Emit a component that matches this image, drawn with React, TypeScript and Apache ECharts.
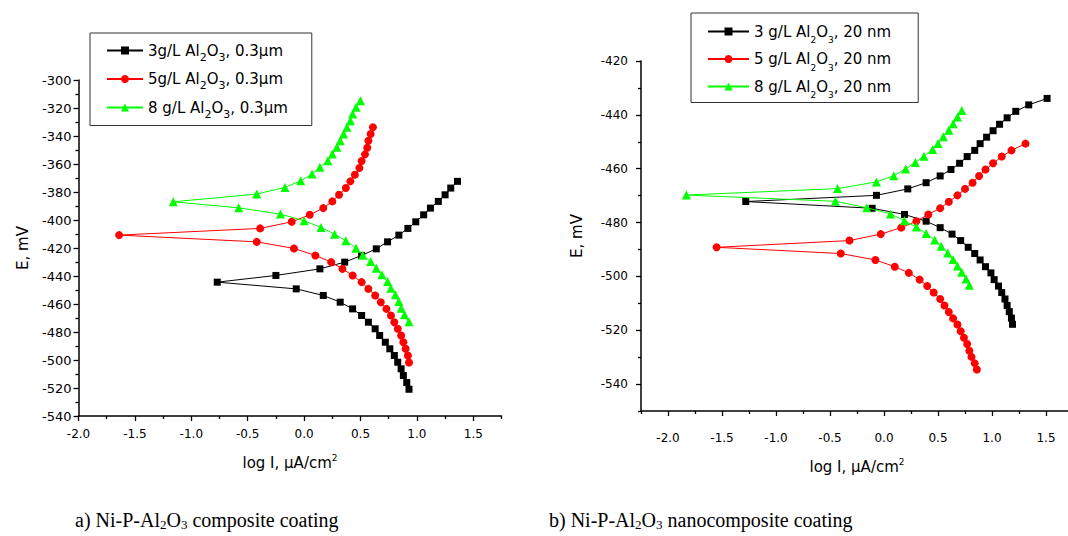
import React, { useEffect, useRef } from 'react';
import * as echarts from 'echarts';

type P = [number, number];

// ---------- (a) Ni-P-Al2O3 composite coating ----------
const a3Corr: P = [-0.77, -444.4];
const a3Anod: P[] = [[-0.25, -439.6], [0.14, -434.9], [0.36, -430.1], [0.51, -425.3], [0.64, -420.6], [0.74, -415.6], [0.84, -410.8], [0.92, -406.0], [0.99, -401.3], [1.06, -396.3], [1.12, -391.5], [1.19, -386.7], [1.25, -382.0], [1.30, -377.2], [1.36, -372.4]];
const a3Cath: P[] = [[-0.07, -449.2], [0.17, -453.9], [0.32, -458.7], [0.43, -463.5], [0.51, -468.2], [0.57, -473.0], [0.63, -477.7], [0.67, -482.5], [0.72, -487.3], [0.76, -492.0], [0.80, -496.8], [0.83, -501.6], [0.86, -506.3], [0.88, -511.1], [0.91, -516.1], [0.93, -520.9]];

const a5Corr: P = [-1.64, -410.8];
const a5Anod: P[] = [[-0.39, -406.0], [-0.11, -401.3], [0.05, -396.3], [0.17, -391.5], [0.25, -386.7], [0.31, -382.0], [0.37, -377.2], [0.41, -372.4], [0.45, -367.7], [0.49, -362.9], [0.51, -357.9], [0.54, -353.1], [0.56, -348.4], [0.57, -343.4], [0.59, -338.6], [0.61, -333.8]];
const a5Cath: P[] = [[-0.42, -415.6], [-0.09, -420.3], [0.10, -425.3], [0.24, -430.1], [0.34, -434.9], [0.43, -439.6], [0.51, -444.4], [0.57, -449.2], [0.63, -453.9], [0.68, -458.7], [0.73, -463.5], [0.77, -468.2], [0.80, -473.0], [0.83, -477.7], [0.86, -482.5], [0.88, -487.3], [0.90, -492.0], [0.92, -496.8], [0.93, -501.8]];

const a8Corr: P = [-1.16, -387.0];
const a8Anod: P[] = [[-0.42, -381.5], [-0.17, -376.7], [-0.03, -372.0], [0.07, -367.2], [0.14, -362.4], [0.21, -357.7], [0.25, -352.9], [0.29, -348.1], [0.32, -343.4], [0.35, -338.6], [0.38, -333.8], [0.41, -329.1], [0.43, -324.3], [0.46, -319.5], [0.50, -314.8]];
const a8Cath: P[] = [[-0.58, -391.3], [-0.21, -395.8], [0.00, -400.5], [0.15, -405.3], [0.27, -410.1], [0.37, -414.8], [0.46, -420.1], [0.52, -425.1], [0.59, -429.6], [0.64, -434.4], [0.69, -439.1], [0.74, -443.9], [0.77, -448.7], [0.81, -453.4], [0.84, -458.2], [0.86, -463.0], [0.89, -467.7], [0.93, -472.7]];

// ---------- (b) Ni-P-Al2O3 nanocomposite coating ----------
const b3Corr: P = [-1.28, -472.2];
const b3Anod: P[] = [[-0.07, -469.9], [0.22, -467.5], [0.39, -465.2], [0.52, -462.7], [0.62, -460.3], [0.70, -458.0], [0.77, -455.5], [0.84, -453.2], [0.89, -450.7], [0.95, -448.3], [1.01, -445.9], [1.07, -443.5], [1.14, -441.1], [1.22, -438.7], [1.34, -436.3], [1.51, -433.9]];
const b3Cath: P[] = [[-0.11, -474.7], [0.19, -477.0], [0.39, -479.5], [0.52, -481.9], [0.63, -484.3], [0.71, -486.7], [0.78, -489.2], [0.84, -491.5], [0.89, -493.9], [0.94, -496.4], [0.99, -498.7], [1.02, -501.2], [1.06, -503.6], [1.09, -506.0], [1.12, -508.4], [1.14, -510.8], [1.16, -513.1], [1.18, -515.5], [1.19, -517.8]];

const b5Corr: P = [-1.55, -489.2];
const b5Anod: P[] = [[-0.32, -486.7], [-0.03, -484.3], [0.16, -481.9], [0.30, -479.5], [0.41, -477.0], [0.52, -474.7], [0.60, -472.3], [0.68, -469.9], [0.75, -467.5], [0.82, -465.2], [0.88, -462.7], [0.94, -460.3], [1.01, -458.0], [1.09, -455.5], [1.18, -453.2], [1.31, -450.7]];
const b5Cath: P[] = [[-0.40, -491.5], [-0.08, -493.9], [0.10, -496.4], [0.23, -498.7], [0.33, -501.2], [0.40, -503.6], [0.46, -506.0], [0.52, -508.4], [0.56, -510.8], [0.60, -513.2], [0.64, -515.6], [0.68, -517.9], [0.71, -520.4], [0.74, -522.8], [0.77, -525.1], [0.79, -527.6], [0.81, -529.9], [0.84, -532.3], [0.86, -534.6]];

const b8Corr: P = [-1.83, -469.8];
const b8Anod: P[] = [[-0.43, -467.4], [-0.07, -464.9], [0.09, -462.6], [0.20, -460.1], [0.29, -457.7], [0.37, -455.4], [0.45, -452.9], [0.50, -450.6], [0.55, -448.1], [0.60, -445.7], [0.64, -443.3], [0.68, -440.8], [0.72, -438.4]];
const b8Cath: P[] = [[-0.45, -472.1], [-0.16, -474.5], [0.06, -476.8], [0.19, -479.3], [0.30, -481.7], [0.39, -484.1], [0.47, -486.5], [0.53, -488.8], [0.59, -491.3], [0.64, -493.7], [0.68, -496.1], [0.72, -498.5], [0.76, -501.0], [0.79, -503.3]];

// ---------- ticks ----------
const xMajor = [-2.0, -1.5, -1.0, -0.5, 0.0, 0.5, 1.0, 1.5];
const xMinorA = [-1.75, -1.25, -0.75, -0.25, 0.25, 0.75, 1.25, 1.75];
const xMinorB = [-2.25, -1.75, -1.25, -0.75, -0.25, 0.25, 0.75, 1.25, 1.75];
const yMajorA = [-540, -520, -500, -480, -460, -440, -420, -400, -380, -360, -340, -320, -300];
const yMinorA = [-530, -510, -490, -470, -450, -430, -410, -390, -370, -350, -330, -310];
const yMajorB = [-540, -520, -500, -480, -460, -440, -420];
const yMinorB = [-550, -530, -510, -490, -470, -450, -430];

const namesA = ['3g/L Al2O3, 0.3μm', '5g/L Al2O3, 0.3μm', '8 g/L Al2O3, 0.3μm'];
const namesB = ['3 g/L Al2O3, 20 nm', '5 g/L Al2O3, 20 nm', '8 g/L Al2O3, 20 nm'];
const captionA = 'a) Ni-P-Al{s|2}O{s|3} composite coating';
const captionB = 'b) Ni-P-Al{s|2}O{s|3} nanocomposite coating';

const SANS = "'DejaVu Sans', 'Liberation Sans', sans-serif";
const SERIF = "'Liberation Serif', 'Times New Roman', serif";

const join = (cath: P[], corr: P, anod: P[]): P[] => [...cath.slice().reverse(), corr, ...anod];

const mainX = (grid: number, min: number, max: number, margin: number, nameGap: number) => ({
  type: 'value', gridIndex: grid, min, max, position: 'bottom',
  name: 'log I, μA/cm{sup|2}', nameLocation: 'middle', nameGap,
  nameTextStyle: { fontFamily: SANS, fontSize: 15, color: '#000', rich: { sup: { fontFamily: SANS, fontSize: 9, padding: [0, 0, 11, 0], color: '#000' } } },
  axisLine: { show: true, onZero: false, lineStyle: { color: '#000', width: 1.5 } },
  axisTick: { show: true, inside: false, length: 5, customValues: xMajor, lineStyle: { color: '#000', width: 1.3 } },
  axisLabel: { show: true, customValues: xMajor, margin, fontFamily: SANS, fontSize: 12, color: '#000', formatter: (v: number) => v.toFixed(1) },
  splitLine: { show: false },
});
const minorX = (grid: number, min: number, max: number, vals: number[]) => ({
  type: 'value', gridIndex: grid, min, max, position: 'bottom', offset: 0,
  axisLine: { show: false, onZero: false },
  axisTick: { show: true, inside: false, length: 3, customValues: vals, lineStyle: { color: '#000', width: 1.3 } },
  axisLabel: { show: false }, splitLine: { show: false },
});
const mainY = (grid: number, min: number, max: number, vals: number[], margin: number, nameGap: number, fs: number) => ({
  type: 'value', gridIndex: grid, min, max, position: 'left',
  name: 'E, mV', nameLocation: 'middle', nameGap, nameRotate: 90,
  nameTextStyle: { fontFamily: SANS, fontSize: 15, color: '#000' },
  axisLine: { show: true, onZero: false, lineStyle: { color: '#000', width: 1.5 } },
  axisTick: { show: true, inside: false, length: 5, customValues: vals, lineStyle: { color: '#000', width: 1.3 } },
  axisLabel: { show: true, customValues: vals, margin, fontFamily: SANS, fontSize: fs, color: '#000', formatter: (v: number) => String(v) },
  splitLine: { show: false },
});
const minorY = (grid: number, min: number, max: number, vals: number[]) => ({
  type: 'value', gridIndex: grid, min, max, position: 'left', offset: 0,
  axisLine: { show: false, onZero: false },
  axisTick: { show: true, inside: false, length: 3, customValues: vals, lineStyle: { color: '#000', width: 1.3 } },
  axisLabel: { show: false }, splitLine: { show: false },
});

const styles = [
  { color: '#000000', symbol: 'rect', size: 7 },
  { color: '#ff0000', symbol: 'circle', size: 8 },
  { color: '#00ff00', symbol: 'triangle', size: 9 },
];

const mkSeries = (name: string, data: P[], idx: number, axis: number) => ({
  name, type: 'line', xAxisIndex: axis, yAxisIndex: axis, data,
  symbol: styles[idx].symbol, symbolSize: styles[idx].size,
  itemStyle: { color: styles[idx].color },
  lineStyle: { color: styles[idx].color, width: 1 },
  emphasis: { disabled: true }, animation: false, z: 2 + idx,
});

const legendFmt = (n: string) => n.replace('Al2O3', 'Al{s|2}O{s|3}');

export default function App() {
  const ref = useRef<HTMLDivElement>(null);
  useEffect(() => {
    if (!ref.current) return;
    const chart = echarts.init(ref.current, undefined, { renderer: 'svg' });
    const option: any = {
      animation: false,
      backgroundColor: '#fff',
      grid: [
        { left: 78.5, top: 80, width: 423, height: 336 },
        { left: 641, top: 61, width: 432, height: 350 },
      ],
      xAxis: [
        mainX(0, -2, 1.75, 12, 37),
        mainX(1, -2.25, 1.75, 21, 46),
        minorX(0, -2, 1.75, xMinorA),
        minorX(1, -2.25, 1.75, xMinorB),
      ],
      yAxis: [
        mainY(0, -540, -300, yMajorA, 7, 48, 13),
        mainY(1, -550, -420, yMajorB, 13, 57, 12),
        minorY(0, -540, -300, yMinorA),
        minorY(1, -550, -420, yMinorB),
      ],
      legend: [
        {
          orient: 'vertical', left: 90, top: 33, itemWidth: 36, itemHeight: 10, itemGap: 9,
          padding: [10, 24, 6, 16], borderColor: '#333', borderWidth: 1, selectedMode: false,
          data: namesA, formatter: legendFmt,
          textStyle: { fontFamily: SANS, fontSize: 15, color: '#000', rich: { s: { fontFamily: SANS, fontSize: 11, padding: [13, 0, 0, 0], color: '#000' } } },
        },
        {
          orient: 'vertical', left: 691, top: 13, itemWidth: 41, itemHeight: 10, itemGap: 7,
          padding: [11, 27, 3, 16], borderColor: '#333', borderWidth: 1, selectedMode: false,
          data: namesB, formatter: legendFmt,
          textStyle: { fontFamily: SANS, fontSize: 15, color: '#000', rich: { s: { fontFamily: SANS, fontSize: 9, padding: [17, 0, 0, 0], color: '#000' } } },
        },
      ],
      graphic: [
        { type: 'text', x: 75, y: 520, style: { text: captionA, align: 'left', verticalAlign: 'middle', fontFamily: SERIF, fontSize: 20, fill: '#000', rich: { s: { fontFamily: SERIF, fontSize: 13, padding: [8, 0, 0, 0], fill: '#000' } } } },
        { type: 'text', x: 549, y: 520, style: { text: captionB, align: 'left', verticalAlign: 'middle', fontFamily: SERIF, fontSize: 20, fill: '#000', rich: { s: { fontFamily: SERIF, fontSize: 13, padding: [8, 0, 0, 0], fill: '#000' } } } },
      ],
      series: [
        mkSeries(namesA[0], join(a3Cath, a3Corr, a3Anod), 0, 0),
        mkSeries(namesA[1], join(a5Cath, a5Corr, a5Anod), 1, 0),
        mkSeries(namesA[2], join(a8Cath, a8Corr, a8Anod), 2, 0),
        mkSeries(namesB[0], join(b3Cath, b3Corr, b3Anod), 0, 1),
        mkSeries(namesB[1], join(b5Cath, b5Corr, b5Anod), 1, 1),
        mkSeries(namesB[2], join(b8Cath, b8Corr, b8Anod), 2, 1),
      ],
    };
    chart.setOption(option);
    return () => chart.dispose();
  }, []);
  return (
    <div style={{ position: 'fixed', left: 0, top: 0, width: 1068, height: 536, overflow: 'hidden', background: '#fff' }}>
      <div ref={ref} style={{ width: 1100, height: 536 }} />
    </div>
  );
}
